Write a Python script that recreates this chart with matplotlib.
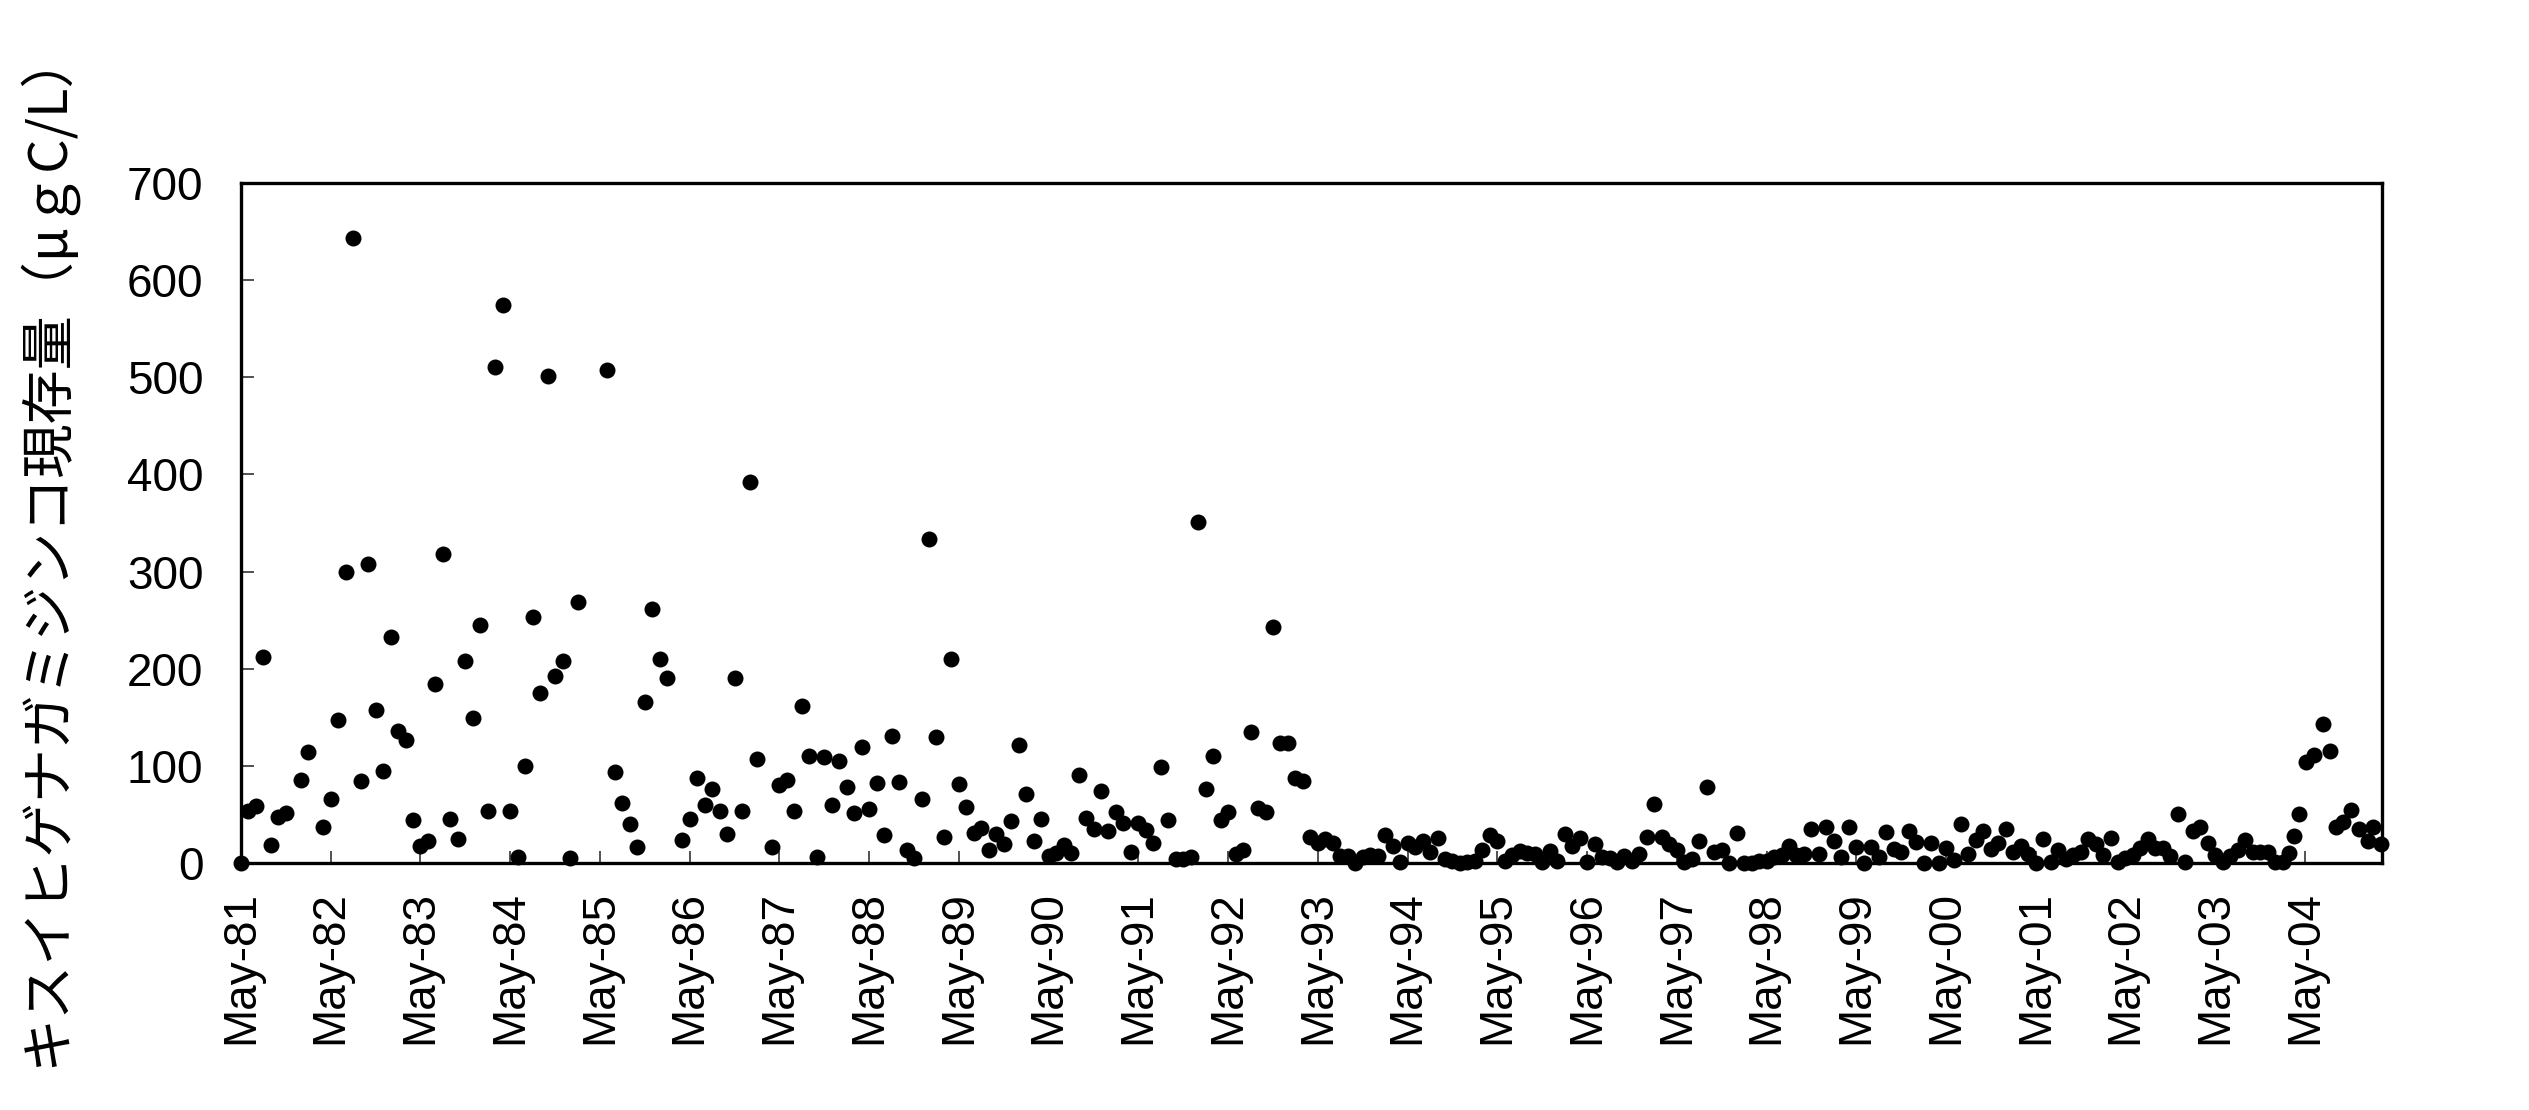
import numpy as np
import matplotlib
matplotlib.use("Agg")
import matplotlib.pyplot as plt

# sample dates as months counted from May 1981, values in ugC/L
months = [0, 1, 2, 3, 4, 5, 6, 8, 9, 11,
          12, 13, 14, 15, 16, 17, 18, 19, 20, 21, 22, 23,
          24, 25, 26, 27, 28, 29, 30, 31, 32, 33, 34, 35,
          36, 37, 38, 39, 40, 41, 42, 43, 44, 45,
          49, 50, 51, 52, 53, 54, 55, 56, 57,
          59, 60, 61, 62, 63, 64, 65, 66, 67, 68, 69,
          71, 72, 73, 74, 75, 76, 77, 78, 79, 80, 81, 82, 83,
          84, 85, 86, 87, 88, 89, 90, 91, 92, 93, 94, 95,
          96, 97, 98, 99, 100, 101, 102, 103, 104, 105, 106, 107,
          108, 109, 110, 111, 112, 113, 114, 115, 116, 117, 118, 119,
          120, 121, 122, 123, 124, 125, 126, 127, 128, 129, 130, 131,
          132, 133, 134, 135, 136, 137, 138, 139, 140, 141, 142, 143,
          144, 145, 146, 147, 148, 149, 150, 151, 152, 153, 154, 155,
          156, 157, 158, 159, 160, 161, 162, 163, 164, 165, 166, 167,
          168, 169, 170, 171, 172, 173, 174, 175, 176, 177, 178, 179,
          180, 181, 182, 183, 184, 185, 186, 187, 188, 189, 190, 191,
          192, 193, 194, 195, 196, 197, 198, 199, 200, 201, 202, 203,
          204, 205, 206, 207, 208, 209, 210, 211, 212, 213, 214, 215,
          216, 217, 218, 219, 220, 221, 222, 223, 224, 225, 226, 227,
          228, 229, 230, 231, 232, 233, 234, 235, 236, 237, 238, 239,
          240, 241, 242, 243, 244, 245, 246, 247, 248, 249, 250, 251,
          252, 253, 254, 255, 256, 257, 258, 259, 260, 261, 262, 263,
          264, 265, 266, 267, 268, 269, 270, 271, 272, 273,
          273.9, 274.5, 275.2, 276.2, 277.2, 278.4, 279.4, 280.2, 281.1,
          282.2, 283.2, 284.4, 285.1, 286.2]
values = [0, 54, 59, 212, 19, 47, 51, 85, 114, 37,
          66, 147, 300, 643, 84, 308, 158, 95, 233, 136, 127, 44,
          18, 23, 184, 318, 45, 25, 208, 149, 245, 54, 511, 574,
          54, 6, 100, 253, 175, 501, 193, 208, 5, 269,
          507, 94, 62, 40, 16, 166, 261, 210, 190,
          24, 45, 88, 60, 76, 54, 30, 190, 54, 392, 107,
          16, 80, 85, 54, 162, 110, 6, 109, 60, 105, 78, 51, 119,
          56, 82, 29, 131, 83, 13, 5, 66, 334, 130, 27, 210,
          81, 58, 31, 36, 13, 30, 20, 43, 121, 71, 23, 45,
          7, 10, 19, 10, 91, 46, 35, 74, 33, 52, 41, 11,
          41, 34, 21, 99, 44, 4, 4, 6, 351, 76, 110, 44,
          52, 9, 13, 135, 57, 52, 243, 124, 124, 88, 84, 27,
          21, 25, 21, 7, 7, 0, 6, 8, 7, 29, 18, 1,
          21, 16, 23, 11, 26, 4, 2, 0, 1, 2, 13, 29,
          23, 2, 8, 12, 10, 9, 1, 12, 2, 30, 18, 26,
          1, 20, 6, 5, 1, 7, 2, 9, 27, 61, 27, 20,
          13, 1, 4, 23, 78, 11, 13, 0, 31, 0, 0, 2,
          2, 6, 8, 18, 8, 9, 35, 9, 37, 23, 6, 37,
          16, 0, 16, 6, 32, 14, 11, 33, 22, 0, 21, 0,
          15, 3, 40, 9, 24, 33, 14, 21, 35, 11, 18, 9,
          0, 25, 1, 13, 4, 8, 11, 25, 20, 8, 26, 1,
          5, 8, 15, 25, 15, 15, 7, 50, 1, 33, 37, 21,
          8, 1, 7, 13, 24, 11, 11, 11, 1, 1,
          10, 28, 50, 104, 111, 143, 115, 37, 42,
          55, 35, 23, 37, 20]

year_labels = ["May-81", "May-82", "May-83", "May-84", "May-85", "May-86",
               "May-87", "May-88", "May-89", "May-90", "May-91", "May-92",
               "May-93", "May-94", "May-95", "May-96", "May-97", "May-98",
               "May-99", "May-00", "May-01", "May-02", "May-03", "May-04"]
y_ticks = [0, 100, 200, 300, 400, 500, 600, 700]
y_title = "キスイヒゲナガミジンコ現存量（μｇC/L）"

W, H = 2529, 1110
fig = plt.figure(figsize=(W / 100, H / 100), dpi=100)
ax = fig.add_axes([241 / W, 1 - 863 / H, (2382 - 241) / W, (863 - 183) / H])

ax.plot(months, values, 'o', color='black', markersize=11.5,
        markeredgewidth=0, clip_on=False, zorder=3)

ax.set_xlim(0, 286.3)
ax.set_ylim(0, 700)
ax.set_xticks(np.arange(len(year_labels)) * 12)
ax.set_xticklabels(year_labels, rotation=90, fontsize=33,
                   family='Liberation Sans')
ax.set_yticks(y_ticks)
ax.set_yticklabels([str(v) for v in y_ticks], fontsize=33,
                   family='Liberation Sans')
ax.tick_params(axis='x', direction='in', length=9, width=1.2,
               color='#333333', pad=20)
ax.tick_params(axis='y', direction='in', length=9, width=1.2,
               color='#333333', pad=27)
for s in ax.spines.values():
    s.set_linewidth(2.4)
    s.set_color('black')

fig.text(45 / W, 1 - 547 / H, y_title, rotation=90, ha='center', va='center',
         fontsize=39, family=['Noto Sans CJK JP', 'DejaVu Sans'])

fig.savefig('out.png', dpi=100)
